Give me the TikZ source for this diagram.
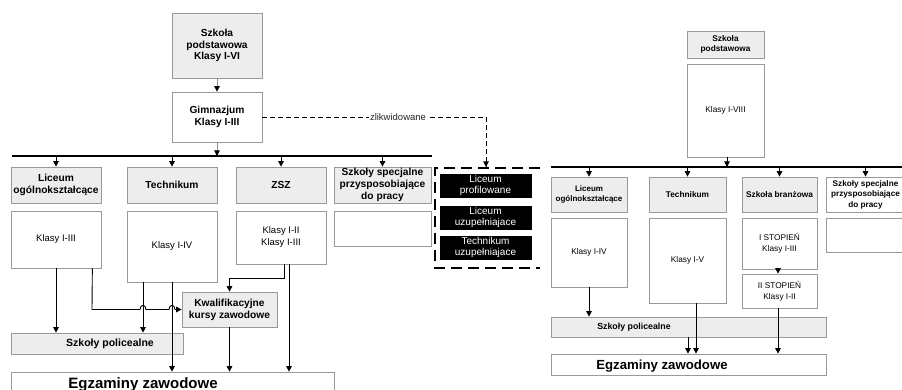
\documentclass[tikz,border=0pt]{standalone}
\usepackage{fontspec}
\setmainfont{Liberation Sans}
\usetikzlibrary{arrows.meta,calc}
\begin{document}
\begin{tikzpicture}[x=1pt,y=-1pt,
 every node/.style={inner sep=1pt, align=center},
 wh/.style 2 args={minimum width=#1pt, minimum height=#2pt},
 bx/.style={draw=black!40, line width=0.7pt, fill=white},
 gb/.style={bx, fill=black!7},
 hL/.style={font=\fontsize{10.2}{11.8}\selectfont\bfseries},
 tL/.style={font=\fontsize{9.5}{12}\selectfont},
 hR/.style={font=\fontsize{8.3}{10.5}\selectfont\bfseries},
 tR/.style={font=\fontsize{8.3}{11}\selectfont},
 arr/.style={draw=black, line width=0.9pt, -{Triangle[length=5.5pt,width=5.5pt]}},
 garr/.style={draw=black!45, line width=0.7pt, -{Triangle[length=5.5pt,width=5.5pt,color=black]}},
 blk/.style={fill=black, draw=black, text=white, font=\fontsize{10}{11.2}\selectfont},
 bus/.style={line width=1.6pt},
 dline/.style={line width=0.9pt, dash pattern=on 5pt off 3pt},
 dbrk/.style={line width=1.2pt, dash pattern=on 11pt off 6pt},
 ]
\useasboundingbox (0,0) rectangle (902,390);
\clip (0,0) rectangle (902,390);

% ---------------- LEFT DIAGRAM ----------------
\node[gb,hL,wh={90}{65}] (sp1) at (217,45.5) {Szkoła\\podstawowa\\Klasy I-VI};
\node[bx,hL,wh={90}{50}] (gim) at (217,117) {Gimnazjum\\Klasy I-III};
\coordinate (b1L) at (12,156);
\coordinate (b1R) at (432,156);
\draw[bus] (b1L) -- (b1R);
\draw[garr] (sp1.south) -- (gim.north);
\draw[garr] (gim.south) -- (gim.south |- b1L);

\node[gb,hL,wh={90}{36}] (lo1) at (56,185) {Liceum\\ogólnokształcące};
\node[gb,hL,wh={90}{36}] (tech1) at (172,185) {Technikum};
\node[gb,hL,wh={90}{36}] (zsz1) at (281,185) {ZSZ};
\node[gb,hL,wh={97}{36}] (spec1) at (382.5,185) {Szkoły specjalne\\przysposobiające\\do pracy};
\foreach \n in {lo1,tech1,zsz1,spec1}{\draw[arr] (\n.north |- b1L) -- (\n.north);}

\node[bx,tL,wh={90}{57}] (lo1k) at (56,239.5) {Klasy I-III};
\node[bx,tL,wh={90}{71}] (tech1k) at (172,246.5) {Klasy I-IV};
\node[bx,tL,wh={90}{53}] (zsz1k) at (281,237.5) {Klasy I-II\\Klasy I-III};
\node[bx,wh={97}{35}] (spec1k) at (382.5,228.5) {};

\node[gb,hL,wh={95}{35}] (kkz) at (229.5,309.5) {Kwalifikacyjne\\kursy zawodowe};
\node[gb,wh={172}{21}] (pol1) at (97,343.5) {};
\node[hL,font=\fontsize{10.5}{12}\selectfont\bfseries] (pol1t) at (110,343.5) {Szkoły policealne};
\node[bx,wh={323}{40}] (egz1) at (172.5,392) {};
\node[font=\fontsize{15}{17}\selectfont\bfseries, anchor=base] (egz1t) at (143,388.5) {Egzaminy zawodowe};

% connectors left
\draw[arr] (lo1k.south) -- (lo1k.south |- pol1.north);
\draw[arr] ([xshift=-9pt]lo1k.south east) -- (92,309.5) -- (140,309.5)
   .. controls (140,304) and (146,304) .. (146,309.5) -- (169,309.5)
   .. controls (169,304) and (175,304) .. (175,309.5) -- (kkz.west);
\draw[arr] ([xshift=-29pt]tech1k.south) -- ([xshift=-29pt]tech1k.south |- pol1.north);
\draw[arr] (tech1k.south) -- (tech1k.south |- egz1.north);
\draw[arr] ([xshift=3pt]zsz1k.south) -- (284,278) -| (kkz.north);
\draw[arr] ([xshift=8pt]zsz1k.south) -- ([xshift=8pt]zsz1k.south |- egz1.north);
\draw[arr] (kkz.south) -- (kkz.south |- egz1.north);

% dashed zlikwidowane
\coordinate (dz) at (486,117);
\coordinate (dzb) at (486,167);
\draw[dline] (gim.east) -- (dz) -- (dzb);
\draw[-{Triangle[length=5.5pt,width=5.5pt]}, line width=0.9pt] (486,160) -- (dzb);
\node[fill=white, inner sep=1.5pt, font=\fontsize{9.5}{11}\selectfont, text=black!85] (zlik) at (398,117) {zlikwidowane};

\draw[dbrk] (540,168) -- (435,168) -- (435,268) -- (540,268);
\node[blk,wh={91}{23}] (lp) at (485.5,185.5) {Liceum\\profilowane};
\node[blk,wh={91}{21}] (lu) at (485.5,217.5) {Liceum\\uzupełniajace};
\node[blk,wh={91}{21}] (tu) at (485.5,247.5) {Technikum\\uzupełniajace};

% ---------------- RIGHT DIAGRAM ----------------
\node[gb,hR,wh={77}{27}] (sp2) at (725.5,44.5) {Szkoła\\podstawowa};
\node[bx,tR,wh={77}{93}] (k8) at (725.5,110.5) {Klasy I-VIII};
\coordinate (b2L) at (551,167);
\coordinate (b2R) at (905,167);
\draw[bus] (b2L) -- (b2R);
\draw[arr] ([xshift=1.5pt]k8.south) -- ([xshift=1.5pt]k8.south |- b2L);

\node[gb,hR,font=\fontsize{8}{10.5}\selectfont\bfseries,wh={76}{35}] (lo2) at (589,194.5) {Liceum\\ogólnokształcące};
\node[gb,hR,wh={77}{35}] (tech2) at (687.5,194.5) {Technikum};
\node[gb,hR,wh={75}{35}] (sb2) at (779.5,194.5) {Szkoła branżowa};
\node[bx,wh={82}{35}] (spec2) at (867.5,194.5) {};
\node[font=\fontsize{8.2}{10.5}\selectfont\bfseries] (spec2t) at (865.5,194.5) {Szkoły specjalne\\przysposobiające\\do pracy};
\foreach \n in {lo2,tech2,sb2}{\draw[arr] (\n.north |- b2L) -- (\n.north);}
\draw[arr] (spec2t.north |- b2L) -- (spec2t.north |- spec2.north);

\node[bx,tR,wh={76}{69}] (lo2k) at (589,252.5) {Klasy I-IV};
\node[bx,tR,wh={77}{85}] (tech2k) at (687.5,260.5) {Klasy I-V};
\node[bx,tR,wh={75}{51}] (st1) at (779.5,243.5) {I STOPIEŃ\\Klasy I-III};
\node[bx,tR,wh={75}{34}] (st2) at (779.5,291) {II STOPIEŃ\\Klasy I-II};
\node[bx,wh={82}{34}] (spec2k) at (867,235) {};

\node[gb,wh={275}{20}] (pol2) at (688.5,327) {};
\node[hR,font=\fontsize{8.8}{10.5}\selectfont\bfseries] (pol2t) at (634,327) {Szkoły policealne};
\node[bx,wh={275}{21}] (egz2) at (688.5,364.5) {};
\node[font=\fontsize{13.2}{15}\selectfont\bfseries, anchor=base] (egz2t) at (662,369.5) {Egzaminy zawodowe};

\draw[arr] (lo2k.south) -- (lo2k.south |- pol2.north);
\draw[arr] (st1.south -| 778,0) -- (st2.north -| 778,0);
\draw[arr] ([xshift=8.5pt]tech2k.south) -- ([xshift=8.5pt]tech2k.south |- egz2.north);
\draw[arr] (pol2.south -| 688,0) -- (egz2.north -| 688,0);
\draw[arr] (st2.south -| 778,0) -- (egz2.north -| 778,0);
\end{tikzpicture}
\end{document}
